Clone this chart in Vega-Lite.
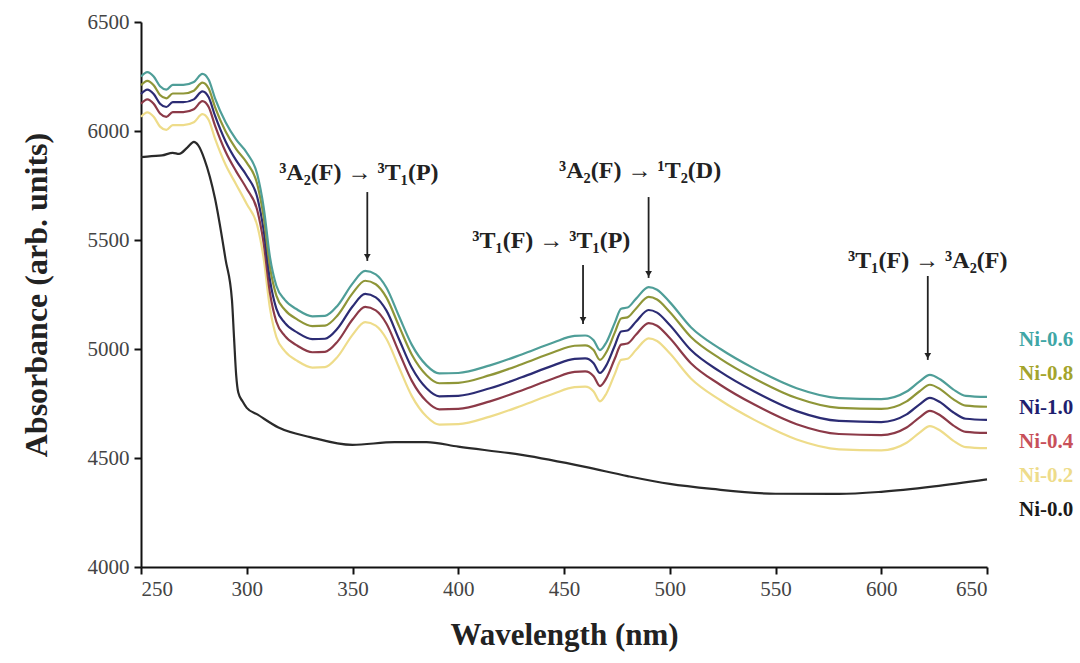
{
  "$schema": "https://vega.github.io/schema/vega-lite/v6.json",
  "autosize": {"type": "none"},
  "padding": {"left": 141, "top": 22, "right": 93, "bottom": 96},
  "width": 846,
  "height": 545,
  "background": "white",
  "config": {"view": {"stroke": null}, "font": "Liberation Serif"},
  "datasets": {
    "spectra": [
      {"s":"Ni-0.2","x":250,"y":6065},{"s":"Ni-0.2","x":253,"y":6085},{"s":"Ni-0.2","x":256,"y":6065},{"s":"Ni-0.2","x":259,"y":6020},{"s":"Ni-0.2","x":262,"y":6005},{"s":"Ni-0.2","x":265,"y":6027},{"s":"Ni-0.2","x":270,"y":6027},{"s":"Ni-0.2","x":275,"y":6040},{"s":"Ni-0.2","x":279,"y":6077},{"s":"Ni-0.2","x":282,"y":6050},{"s":"Ni-0.2","x":285,"y":5965},{"s":"Ni-0.2","x":290,"y":5845},{"s":"Ni-0.2","x":295,"y":5755},{"s":"Ni-0.2","x":300,"y":5665},{"s":"Ni-0.2","x":305,"y":5565},{"s":"Ni-0.2","x":308,"y":5415},{"s":"Ni-0.2","x":311,"y":5185},{"s":"Ni-0.2","x":314,"y":5055},{"s":"Ni-0.2","x":318,"y":4990},{"s":"Ni-0.2","x":324,"y":4945},{"s":"Ni-0.2","x":331,"y":4915},{"s":"Ni-0.2","x":337,"y":4917},{"s":"Ni-0.2","x":343,"y":4965},{"s":"Ni-0.2","x":350,"y":5065},{"s":"Ni-0.2","x":356,"y":5123},{"s":"Ni-0.2","x":361,"y":5107},{"s":"Ni-0.2","x":366,"y":5047},{"s":"Ni-0.2","x":372,"y":4915},{"s":"Ni-0.2","x":378,"y":4785},{"s":"Ni-0.2","x":385,"y":4690},{"s":"Ni-0.2","x":391,"y":4653},{"s":"Ni-0.2","x":400,"y":4655},{"s":"Ni-0.2","x":415,"y":4690},{"s":"Ni-0.2","x":430,"y":4740},{"s":"Ni-0.2","x":445,"y":4795},{"s":"Ni-0.2","x":455,"y":4825},{"s":"Ni-0.2","x":460,"y":4827},{"s":"Ni-0.2","x":464,"y":4805},{"s":"Ni-0.2","x":467,"y":4760},{"s":"Ni-0.2","x":470,"y":4795},{"s":"Ni-0.2","x":474,"y":4885},{"s":"Ni-0.2","x":477,"y":4950},{"s":"Ni-0.2","x":480,"y":4955},{"s":"Ni-0.2","x":484,"y":4995},{"s":"Ni-0.2","x":490,"y":5049},{"s":"Ni-0.2","x":494,"y":5037},{"s":"Ni-0.2","x":500,"y":4980},{"s":"Ni-0.2","x":510,"y":4865},{"s":"Ni-0.2","x":524,"y":4765},{"s":"Ni-0.2","x":540,"y":4675},{"s":"Ni-0.2","x":560,"y":4585},{"s":"Ni-0.2","x":580,"y":4540},{"s":"Ni-0.2","x":600,"y":4535},{"s":"Ni-0.2","x":612,"y":4570},{"s":"Ni-0.2","x":618,"y":4615},{"s":"Ni-0.2","x":623,"y":4646},{"s":"Ni-0.2","x":628,"y":4625},{"s":"Ni-0.2","x":634,"y":4580},{"s":"Ni-0.2","x":640,"y":4550},{"s":"Ni-0.2","x":650,"y":4545},

      {"s":"Ni-0.4","x":250,"y":6125},{"s":"Ni-0.4","x":253,"y":6145},{"s":"Ni-0.4","x":256,"y":6125},{"s":"Ni-0.4","x":259,"y":6080},{"s":"Ni-0.4","x":262,"y":6065},{"s":"Ni-0.4","x":265,"y":6087},{"s":"Ni-0.4","x":270,"y":6087},{"s":"Ni-0.4","x":275,"y":6100},{"s":"Ni-0.4","x":279,"y":6137},{"s":"Ni-0.4","x":282,"y":6110},{"s":"Ni-0.4","x":285,"y":6025},{"s":"Ni-0.4","x":290,"y":5905},{"s":"Ni-0.4","x":295,"y":5815},{"s":"Ni-0.4","x":300,"y":5735},{"s":"Ni-0.4","x":305,"y":5635},{"s":"Ni-0.4","x":308,"y":5485},{"s":"Ni-0.4","x":311,"y":5255},{"s":"Ni-0.4","x":314,"y":5125},{"s":"Ni-0.4","x":318,"y":5060},{"s":"Ni-0.4","x":324,"y":5015},{"s":"Ni-0.4","x":331,"y":4985},{"s":"Ni-0.4","x":337,"y":4987},{"s":"Ni-0.4","x":343,"y":5035},{"s":"Ni-0.4","x":350,"y":5135},{"s":"Ni-0.4","x":356,"y":5193},{"s":"Ni-0.4","x":361,"y":5177},{"s":"Ni-0.4","x":366,"y":5117},{"s":"Ni-0.4","x":372,"y":4985},{"s":"Ni-0.4","x":378,"y":4855},{"s":"Ni-0.4","x":385,"y":4760},{"s":"Ni-0.4","x":391,"y":4723},{"s":"Ni-0.4","x":400,"y":4725},{"s":"Ni-0.4","x":415,"y":4760},{"s":"Ni-0.4","x":430,"y":4810},{"s":"Ni-0.4","x":445,"y":4865},{"s":"Ni-0.4","x":455,"y":4895},{"s":"Ni-0.4","x":460,"y":4897},{"s":"Ni-0.4","x":464,"y":4875},{"s":"Ni-0.4","x":467,"y":4830},{"s":"Ni-0.4","x":470,"y":4865},{"s":"Ni-0.4","x":474,"y":4955},{"s":"Ni-0.4","x":477,"y":5020},{"s":"Ni-0.4","x":480,"y":5025},{"s":"Ni-0.4","x":484,"y":5065},{"s":"Ni-0.4","x":490,"y":5119},{"s":"Ni-0.4","x":494,"y":5107},{"s":"Ni-0.4","x":500,"y":5050},{"s":"Ni-0.4","x":510,"y":4935},{"s":"Ni-0.4","x":524,"y":4835},{"s":"Ni-0.4","x":540,"y":4745},{"s":"Ni-0.4","x":560,"y":4655},{"s":"Ni-0.4","x":580,"y":4610},{"s":"Ni-0.4","x":600,"y":4605},{"s":"Ni-0.4","x":612,"y":4640},{"s":"Ni-0.4","x":618,"y":4685},{"s":"Ni-0.4","x":623,"y":4716},{"s":"Ni-0.4","x":628,"y":4695},{"s":"Ni-0.4","x":634,"y":4650},{"s":"Ni-0.4","x":640,"y":4620},{"s":"Ni-0.4","x":650,"y":4615},

      {"s":"Ni-1.0","x":250,"y":6170},{"s":"Ni-1.0","x":253,"y":6190},{"s":"Ni-1.0","x":256,"y":6170},{"s":"Ni-1.0","x":259,"y":6125},{"s":"Ni-1.0","x":262,"y":6110},{"s":"Ni-1.0","x":265,"y":6132},{"s":"Ni-1.0","x":270,"y":6132},{"s":"Ni-1.0","x":275,"y":6145},{"s":"Ni-1.0","x":279,"y":6182},{"s":"Ni-1.0","x":282,"y":6155},{"s":"Ni-1.0","x":285,"y":6070},{"s":"Ni-1.0","x":290,"y":5952},{"s":"Ni-1.0","x":295,"y":5865},{"s":"Ni-1.0","x":300,"y":5795},{"s":"Ni-1.0","x":305,"y":5695},{"s":"Ni-1.0","x":308,"y":5545},{"s":"Ni-1.0","x":311,"y":5315},{"s":"Ni-1.0","x":314,"y":5185},{"s":"Ni-1.0","x":318,"y":5120},{"s":"Ni-1.0","x":324,"y":5075},{"s":"Ni-1.0","x":331,"y":5045},{"s":"Ni-1.0","x":337,"y":5047},{"s":"Ni-1.0","x":343,"y":5095},{"s":"Ni-1.0","x":350,"y":5195},{"s":"Ni-1.0","x":356,"y":5253},{"s":"Ni-1.0","x":361,"y":5237},{"s":"Ni-1.0","x":366,"y":5177},{"s":"Ni-1.0","x":372,"y":5045},{"s":"Ni-1.0","x":378,"y":4915},{"s":"Ni-1.0","x":385,"y":4820},{"s":"Ni-1.0","x":391,"y":4783},{"s":"Ni-1.0","x":400,"y":4785},{"s":"Ni-1.0","x":415,"y":4820},{"s":"Ni-1.0","x":430,"y":4870},{"s":"Ni-1.0","x":445,"y":4925},{"s":"Ni-1.0","x":455,"y":4955},{"s":"Ni-1.0","x":460,"y":4957},{"s":"Ni-1.0","x":464,"y":4935},{"s":"Ni-1.0","x":467,"y":4890},{"s":"Ni-1.0","x":470,"y":4925},{"s":"Ni-1.0","x":474,"y":5015},{"s":"Ni-1.0","x":477,"y":5080},{"s":"Ni-1.0","x":480,"y":5085},{"s":"Ni-1.0","x":484,"y":5125},{"s":"Ni-1.0","x":490,"y":5179},{"s":"Ni-1.0","x":494,"y":5167},{"s":"Ni-1.0","x":500,"y":5110},{"s":"Ni-1.0","x":510,"y":4995},{"s":"Ni-1.0","x":524,"y":4895},{"s":"Ni-1.0","x":540,"y":4805},{"s":"Ni-1.0","x":560,"y":4715},{"s":"Ni-1.0","x":580,"y":4670},{"s":"Ni-1.0","x":600,"y":4665},{"s":"Ni-1.0","x":612,"y":4700},{"s":"Ni-1.0","x":618,"y":4745},{"s":"Ni-1.0","x":623,"y":4776},{"s":"Ni-1.0","x":628,"y":4755},{"s":"Ni-1.0","x":634,"y":4710},{"s":"Ni-1.0","x":640,"y":4680},{"s":"Ni-1.0","x":650,"y":4675},

      {"s":"Ni-0.8","x":250,"y":6210},{"s":"Ni-0.8","x":253,"y":6230},{"s":"Ni-0.8","x":256,"y":6210},{"s":"Ni-0.8","x":259,"y":6165},{"s":"Ni-0.8","x":262,"y":6150},{"s":"Ni-0.8","x":265,"y":6172},{"s":"Ni-0.8","x":270,"y":6172},{"s":"Ni-0.8","x":275,"y":6185},{"s":"Ni-0.8","x":279,"y":6222},{"s":"Ni-0.8","x":282,"y":6195},{"s":"Ni-0.8","x":285,"y":6110},{"s":"Ni-0.8","x":290,"y":5998},{"s":"Ni-0.8","x":295,"y":5917},{"s":"Ni-0.8","x":300,"y":5855},{"s":"Ni-0.8","x":305,"y":5755},{"s":"Ni-0.8","x":308,"y":5605},{"s":"Ni-0.8","x":311,"y":5375},{"s":"Ni-0.8","x":314,"y":5245},{"s":"Ni-0.8","x":318,"y":5180},{"s":"Ni-0.8","x":324,"y":5135},{"s":"Ni-0.8","x":331,"y":5105},{"s":"Ni-0.8","x":337,"y":5107},{"s":"Ni-0.8","x":343,"y":5155},{"s":"Ni-0.8","x":350,"y":5255},{"s":"Ni-0.8","x":356,"y":5313},{"s":"Ni-0.8","x":361,"y":5297},{"s":"Ni-0.8","x":366,"y":5237},{"s":"Ni-0.8","x":372,"y":5105},{"s":"Ni-0.8","x":378,"y":4975},{"s":"Ni-0.8","x":385,"y":4880},{"s":"Ni-0.8","x":391,"y":4843},{"s":"Ni-0.8","x":400,"y":4845},{"s":"Ni-0.8","x":415,"y":4880},{"s":"Ni-0.8","x":430,"y":4930},{"s":"Ni-0.8","x":445,"y":4985},{"s":"Ni-0.8","x":455,"y":5015},{"s":"Ni-0.8","x":460,"y":5017},{"s":"Ni-0.8","x":464,"y":4995},{"s":"Ni-0.8","x":467,"y":4950},{"s":"Ni-0.8","x":470,"y":4985},{"s":"Ni-0.8","x":474,"y":5075},{"s":"Ni-0.8","x":477,"y":5140},{"s":"Ni-0.8","x":480,"y":5145},{"s":"Ni-0.8","x":484,"y":5185},{"s":"Ni-0.8","x":490,"y":5239},{"s":"Ni-0.8","x":494,"y":5227},{"s":"Ni-0.8","x":500,"y":5170},{"s":"Ni-0.8","x":510,"y":5055},{"s":"Ni-0.8","x":524,"y":4955},{"s":"Ni-0.8","x":540,"y":4865},{"s":"Ni-0.8","x":560,"y":4775},{"s":"Ni-0.8","x":580,"y":4730},{"s":"Ni-0.8","x":600,"y":4725},{"s":"Ni-0.8","x":612,"y":4760},{"s":"Ni-0.8","x":618,"y":4805},{"s":"Ni-0.8","x":623,"y":4836},{"s":"Ni-0.8","x":628,"y":4815},{"s":"Ni-0.8","x":634,"y":4770},{"s":"Ni-0.8","x":640,"y":4740},{"s":"Ni-0.8","x":650,"y":4735},

      {"s":"Ni-0.6","x":250,"y":6250},{"s":"Ni-0.6","x":253,"y":6270},{"s":"Ni-0.6","x":256,"y":6250},{"s":"Ni-0.6","x":259,"y":6205},{"s":"Ni-0.6","x":262,"y":6190},{"s":"Ni-0.6","x":265,"y":6212},{"s":"Ni-0.6","x":270,"y":6212},{"s":"Ni-0.6","x":275,"y":6225},{"s":"Ni-0.6","x":279,"y":6262},{"s":"Ni-0.6","x":282,"y":6235},{"s":"Ni-0.6","x":285,"y":6150},{"s":"Ni-0.6","x":290,"y":6040},{"s":"Ni-0.6","x":295,"y":5960},{"s":"Ni-0.6","x":300,"y":5900},{"s":"Ni-0.6","x":305,"y":5800},{"s":"Ni-0.6","x":308,"y":5650},{"s":"Ni-0.6","x":311,"y":5420},{"s":"Ni-0.6","x":314,"y":5290},{"s":"Ni-0.6","x":318,"y":5225},{"s":"Ni-0.6","x":324,"y":5180},{"s":"Ni-0.6","x":331,"y":5150},{"s":"Ni-0.6","x":337,"y":5152},{"s":"Ni-0.6","x":343,"y":5200},{"s":"Ni-0.6","x":350,"y":5300},{"s":"Ni-0.6","x":356,"y":5358},{"s":"Ni-0.6","x":361,"y":5342},{"s":"Ni-0.6","x":366,"y":5282},{"s":"Ni-0.6","x":372,"y":5150},{"s":"Ni-0.6","x":378,"y":5020},{"s":"Ni-0.6","x":385,"y":4925},{"s":"Ni-0.6","x":391,"y":4888},{"s":"Ni-0.6","x":400,"y":4890},{"s":"Ni-0.6","x":415,"y":4925},{"s":"Ni-0.6","x":430,"y":4975},{"s":"Ni-0.6","x":445,"y":5030},{"s":"Ni-0.6","x":455,"y":5060},{"s":"Ni-0.6","x":460,"y":5062},{"s":"Ni-0.6","x":464,"y":5040},{"s":"Ni-0.6","x":467,"y":4995},{"s":"Ni-0.6","x":470,"y":5030},{"s":"Ni-0.6","x":474,"y":5120},{"s":"Ni-0.6","x":477,"y":5185},{"s":"Ni-0.6","x":480,"y":5190},{"s":"Ni-0.6","x":484,"y":5230},{"s":"Ni-0.6","x":490,"y":5284},{"s":"Ni-0.6","x":494,"y":5272},{"s":"Ni-0.6","x":500,"y":5215},{"s":"Ni-0.6","x":510,"y":5100},{"s":"Ni-0.6","x":524,"y":5000},{"s":"Ni-0.6","x":540,"y":4910},{"s":"Ni-0.6","x":560,"y":4820},{"s":"Ni-0.6","x":580,"y":4775},{"s":"Ni-0.6","x":600,"y":4770},{"s":"Ni-0.6","x":612,"y":4805},{"s":"Ni-0.6","x":618,"y":4850},{"s":"Ni-0.6","x":623,"y":4881},{"s":"Ni-0.6","x":628,"y":4860},{"s":"Ni-0.6","x":634,"y":4815},{"s":"Ni-0.6","x":640,"y":4785},{"s":"Ni-0.6","x":650,"y":4780},

      {"s":"Ni-0.0","x":250,"y":5880},{"s":"Ni-0.0","x":255,"y":5885},{"s":"Ni-0.0","x":260,"y":5888},{"s":"Ni-0.0","x":265,"y":5900},{"s":"Ni-0.0","x":268,"y":5895},{"s":"Ni-0.0","x":272,"y":5925},{"s":"Ni-0.0","x":275,"y":5950},{"s":"Ni-0.0","x":277,"y":5935},{"s":"Ni-0.0","x":280,"y":5870},{"s":"Ni-0.0","x":285,"y":5690},{"s":"Ni-0.0","x":290,"y":5410},{"s":"Ni-0.0","x":293,"y":5225},{"s":"Ni-0.0","x":294,"y":5050},{"s":"Ni-0.0","x":295,"y":4880},{"s":"Ni-0.0","x":296,"y":4800},{"s":"Ni-0.0","x":298,"y":4760},{"s":"Ni-0.0","x":300,"y":4730},{"s":"Ni-0.0","x":305,"y":4700},{"s":"Ni-0.0","x":315,"y":4640},{"s":"Ni-0.0","x":330,"y":4596},{"s":"Ni-0.0","x":350,"y":4560},{"s":"Ni-0.0","x":370,"y":4573},{"s":"Ni-0.0","x":385,"y":4573},{"s":"Ni-0.0","x":400,"y":4552},{"s":"Ni-0.0","x":430,"y":4514},{"s":"Ni-0.0","x":460,"y":4459},{"s":"Ni-0.0","x":480,"y":4417},{"s":"Ni-0.0","x":500,"y":4381},{"s":"Ni-0.0","x":520,"y":4358},{"s":"Ni-0.0","x":550,"y":4336},{"s":"Ni-0.0","x":580,"y":4335},{"s":"Ni-0.0","x":600,"y":4345},{"s":"Ni-0.0","x":625,"y":4370},{"s":"Ni-0.0","x":650,"y":4402}
    ],
    "labels": [
      {"s":"Ni-0.6","x":678,"y":5041},
      {"s":"Ni-0.8","x":678,"y":4885},
      {"s":"Ni-1.0","x":678,"y":4729},
      {"s":"Ni-0.4","x":678,"y":4573},
      {"s":"Ni-0.2","x":678,"y":4417},
      {"s":"Ni-0.0","x":678,"y":4261}
    ],
    "notes": [
      {"t":"³A₂(F) → ³T₁(P)","x":353,"y":5807},
      {"t":"³A₂(F) → ¹T₂(D)","x":486,"y":5815},
      {"t":"³T₁(F) → ³T₁(P)","x":444,"y":5495},
      {"t":"³T₁(F) → ³A₂(F)","x":622,"y":5404}
    ],
    "arrows": [
      {"x":357,"y1":5720,"y2":5404},
      {"x":490,"y1":5697,"y2":5326},
      {"x":459,"y1":5385,"y2":5115},
      {"x":622,"y1":5335,"y2":4950}
    ]
  },
  "layer": [
    {
      "data": {"name": "spectra"},
      "mark": {"type": "line", "strokeWidth": 2.2, "interpolate": "monotone"},
      "encoding": {
        "x": {"field": "x", "type": "quantitative",
              "scale": {"domain": [250, 650], "nice": false, "zero": false},
              "axis": {"title": "Wavelength (nm)", "values": [250,300,350,400,450,500,550,600,650], "format": "d",
                       "grid": false, "domainColor": "#111", "domainWidth": 2, "tickColor": "#111", "tickWidth": 2, "tickSize": 7,
                       "labelFont": "Liberation Serif", "labelFontSize": 21, "labelColor": "#444", "labelPadding": 4,
                       "titleFont": "Liberation Serif", "titleFontSize": 31, "titleFontWeight": "bold", "titleColor": "#222", "titlePadding": 21}},
        "y": {"field": "y", "type": "quantitative",
              "scale": {"domain": [4000, 6500], "nice": false, "zero": false},
              "axis": {"title": "Absorbance (arb. units)", "values": [4000,4500,5000,5500,6000,6500], "format": "d",
                       "grid": false, "domainColor": "#111", "domainWidth": 2, "tickColor": "#111", "tickWidth": 2, "tickSize": 7,
                       "labelFont": "Liberation Serif", "labelFontSize": 21, "labelColor": "#444", "labelPadding": 5,
                       "titleFont": "Liberation Serif", "titleFontSize": 32, "titleFontWeight": "bold", "titleColor": "#222", "titlePadding": 34}},
        "color": {"field": "s", "type": "nominal", "legend": null,
                  "scale": {"domain": ["Ni-0.2","Ni-0.4","Ni-1.0","Ni-0.8","Ni-0.6","Ni-0.0"],
                            "range": ["#eedc8a","#8c3a48","#2c2c74","#8f9638","#4f9e98","#2a2a2a"]}}
      }
    },
    {
      "data": {"name": "labels"},
      "mark": {"type": "text", "font": "Liberation Serif", "fontSize": 21, "fontWeight": "bold", "align": "center", "baseline": "middle"},
      "encoding": {
        "x": {"field": "x", "type": "quantitative"},
        "y": {"field": "y", "type": "quantitative"},
        "text": {"field": "s"},
        "color": {"field": "s", "type": "nominal", "legend": null,
                  "scale": {"domain": ["Ni-0.2","Ni-0.4","Ni-1.0","Ni-0.8","Ni-0.6","Ni-0.0"],
                            "range": ["#eedc8a","#c8505a","#1f1f70","#a4a42c","#3fa6a6","#1a1a1a"]}}
      }
    },
    {
      "data": {"name": "notes"},
      "mark": {"type": "text", "font": "Liberation Serif", "fontSize": 24, "fontWeight": "bold", "align": "center", "baseline": "middle", "color": "#222"},
      "encoding": {
        "x": {"field": "x", "type": "quantitative"},
        "y": {"field": "y", "type": "quantitative"},
        "text": {"field": "t"}
      }
    },
    {
      "data": {"name": "arrows"},
      "mark": {"type": "rule", "color": "#222", "strokeWidth": 1.8},
      "encoding": {
        "x": {"field": "x", "type": "quantitative"},
        "y": {"field": "y1", "type": "quantitative"},
        "y2": {"field": "y2"}
      }
    },
    {
      "data": {"name": "arrows"},
      "mark": {"type": "point", "shape": "triangle-down", "filled": true, "color": "#222", "size": 45, "opacity": 1, "yOffset": -4},
      "encoding": {
        "x": {"field": "x", "type": "quantitative"},
        "y": {"field": "y2", "type": "quantitative"}
      }
    }
  ],
  "resolve": {"scale": {"color": "independent"}}
}
